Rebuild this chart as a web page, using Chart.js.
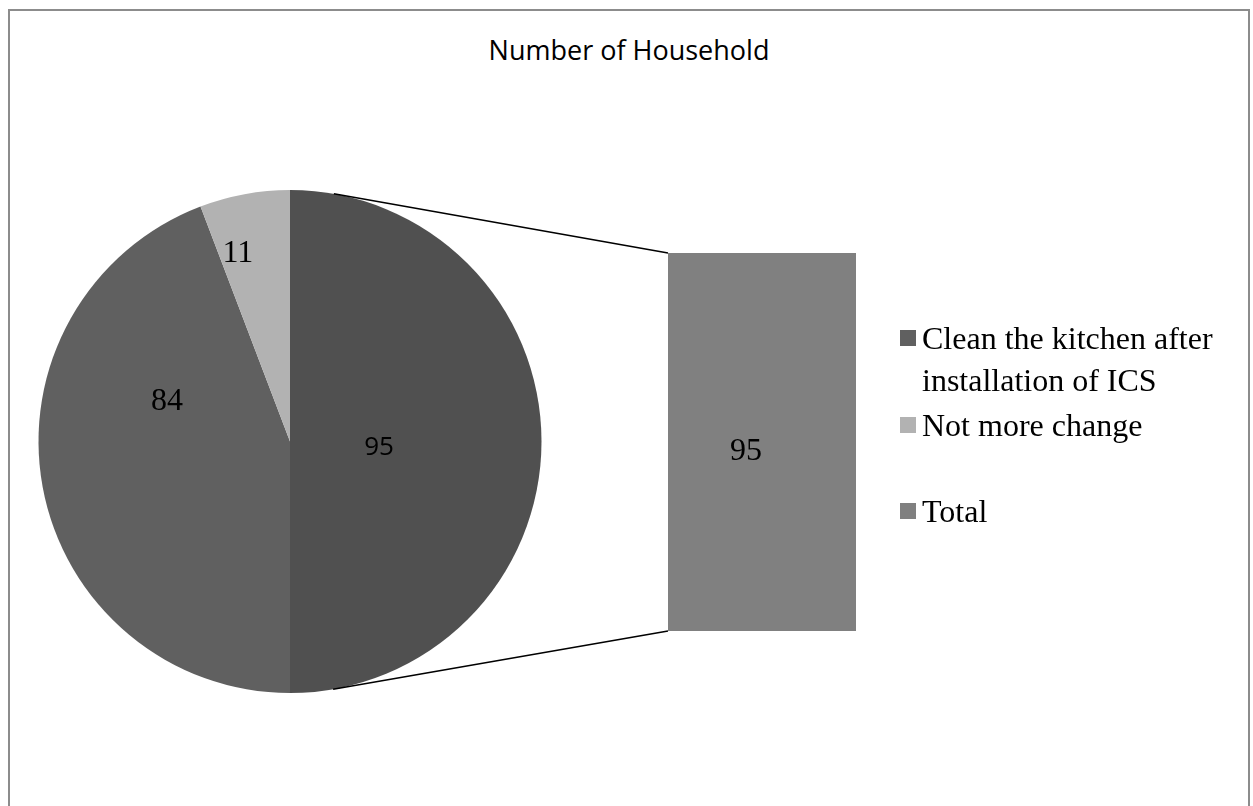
<!DOCTYPE html>
<html>
<head>
<meta charset="utf-8">
<script src="https://cdn.jsdelivr.net/npm/chart.js@4"></script>
<style>
body { margin: 0; background: #fff; }
#wrap { position: relative; width: 1253px; height: 806px; overflow: hidden; }
#frame { position: absolute; left: 8px; top: 9px; width: 1238px; height: 820px; border: 2px solid #8c8c8c; }
#title { position: absolute; left: 10px; width: 1238px; top: 36px; text-align: center; font: 27px/27px "Open Sans"; color: #000; }
#pie { position: absolute; left: 0; top: 0; }
#bar { position: absolute; left: 668px; top: 253px; }
.legend-text { position: absolute; left: 922px; width: 310px; font: 32px/42px "Liberation Serif"; color: #000; }
.swatch { position: absolute; left: 900px; width: 16px; height: 16px; }
</style>
</head>
<body>
<div id="wrap">
  <div id="frame"></div>
  <div id="title">Number of Household</div>
  <canvas id="pie" width="1253" height="806"></canvas>
  <canvas id="bar" width="188" height="378"></canvas>
  <div id="legend"></div>
</div>
<script>
const categories = ['Clean the kitchen after installation of ICS', 'Not more change', 'Total'];
const households = [84, 11, 95];
const colors = ['#606060', '#b2b2b2', '#808080'];

// the "Total" point is split out into the bar, the pie gets one slice for it
const otherColor = '#505050';
const pieValues = [households[2], households[0], households[1]];
const pieColors = [otherColor, colors[0], colors[1]];
const barValues = [households[2]];

// legend
const legendTops = [317, 404, 490];
const swatchTops = [330, 417, 503];
const legend = document.getElementById('legend');
categories.forEach((name, i) => {
    const sw = document.createElement('div');
    sw.className = 'swatch';
    sw.style.top = swatchTops[i] + 'px';
    sw.style.background = colors[i];
    legend.appendChild(sw);
    const txt = document.createElement('div');
    txt.className = 'legend-text';
    txt.style.top = legendTops[i] + 'px';
    txt.textContent = name;
    legend.appendChild(txt);
});

const barLabel = {
    id: 'barLabel',
    afterDatasetsDraw(chart) {
        const bar = chart.getDatasetMeta(0).data[0];
        const ctx = chart.ctx;
        ctx.save();
        ctx.font = '32px "Liberation Serif"';
        ctx.fillStyle = '#000';
        ctx.textAlign = 'center';
        ctx.textBaseline = 'middle';
        ctx.fillText(String(barValues[0]), bar.x - 16, (bar.y + bar.base) / 2 + 10);
        ctx.restore();
    }
};

const barChart = new Chart(document.getElementById('bar'), {
    type: 'bar',
    data: {
        labels: ['Total'],
        datasets: [{
            data: barValues,
            backgroundColor: colors[2],
            borderWidth: 0,
            barPercentage: 1,
            categoryPercentage: 1
        }]
    },
    options: {
        responsive: false,
        animation: false,
        events: [],
        layout: { padding: 0 },
        scales: {
            x: { display: false },
            y: { display: false, min: 0, max: barValues.reduce((a, b) => a + b, 0) }
        },
        plugins: { legend: { display: false }, tooltip: { enabled: false } }
    },
    plugins: [barLabel]
});

const sliceLabels = {
    id: 'sliceLabels',
    afterDatasetsDraw(chart, args, opts) {
        const ctx = chart.ctx;
        chart.getDatasetMeta(0).data.forEach((arc, i) => {
            const spot = opts.spots[i];
            const mid = (arc.startAngle + arc.endAngle) / 2 + spot.turn * Math.PI / 180;
            const r = arc.outerRadius * spot.frac;
            ctx.save();
            ctx.font = spot.font;
            ctx.fillStyle = '#000';
            ctx.textAlign = 'center';
            ctx.textBaseline = 'middle';
            ctx.fillText(String(pieValues[i]), arc.x + Math.cos(mid) * r, arc.y + Math.sin(mid) * r);
            ctx.restore();
        });
    }
};

// lines from the pie to the bar corners, tangent to the circle
const connectors = {
    id: 'connectors',
    afterDatasetsDraw(chart) {
        const arc = chart.getDatasetMeta(0).data[0];
        const bar = barChart.getDatasetMeta(0).data[0];
        const cv = barChart.canvas;
        const left = cv.offsetLeft + bar.x - bar.width / 2;
        const top = cv.offsetTop + bar.y;
        const bottom = cv.offsetTop + bar.base;
        const ctx = chart.ctx;
        ctx.save();
        ctx.strokeStyle = '#000';
        ctx.lineWidth = 1.5;
        [[left, top, -1], [left, bottom, 1]].forEach(([px, py, side]) => {
            const dx = px - arc.x, dy = py - arc.y;
            const d = Math.hypot(dx, dy);
            const a = Math.atan2(dy, dx) + side * Math.acos(arc.outerRadius / d);
            ctx.beginPath();
            ctx.moveTo(arc.x + Math.cos(a) * arc.outerRadius, arc.y + Math.sin(a) * arc.outerRadius);
            ctx.lineTo(px, py);
            ctx.stroke();
        });
        ctx.restore();
    }
};

new Chart(document.getElementById('pie'), {
    type: 'pie',
    data: {
        labels: ['Other', categories[0], categories[1]],
        datasets: [{
            data: pieValues,
            backgroundColor: pieColors,
            borderWidth: 0
        }]
    },
    options: {
        responsive: false,
        animation: false,
        events: [],
        layout: { padding: { left: 38, top: 190, right: 711, bottom: 113 } },
        plugins: {
            legend: { display: false },
            tooltip: { enabled: false },
            sliceLabels: {
                spots: [
                    { frac: 0.355, turn: 4.2, font: '26px "Open Sans"' },
                    { frac: 0.514, turn: 28.2, font: '32px "Liberation Serif"' },
                    { frac: 0.774, turn: -5.1, font: '32px "Liberation Serif"' }
                ]
            }
        }
    },
    plugins: [sliceLabels, connectors]
});
</script>
</body>
</html>
